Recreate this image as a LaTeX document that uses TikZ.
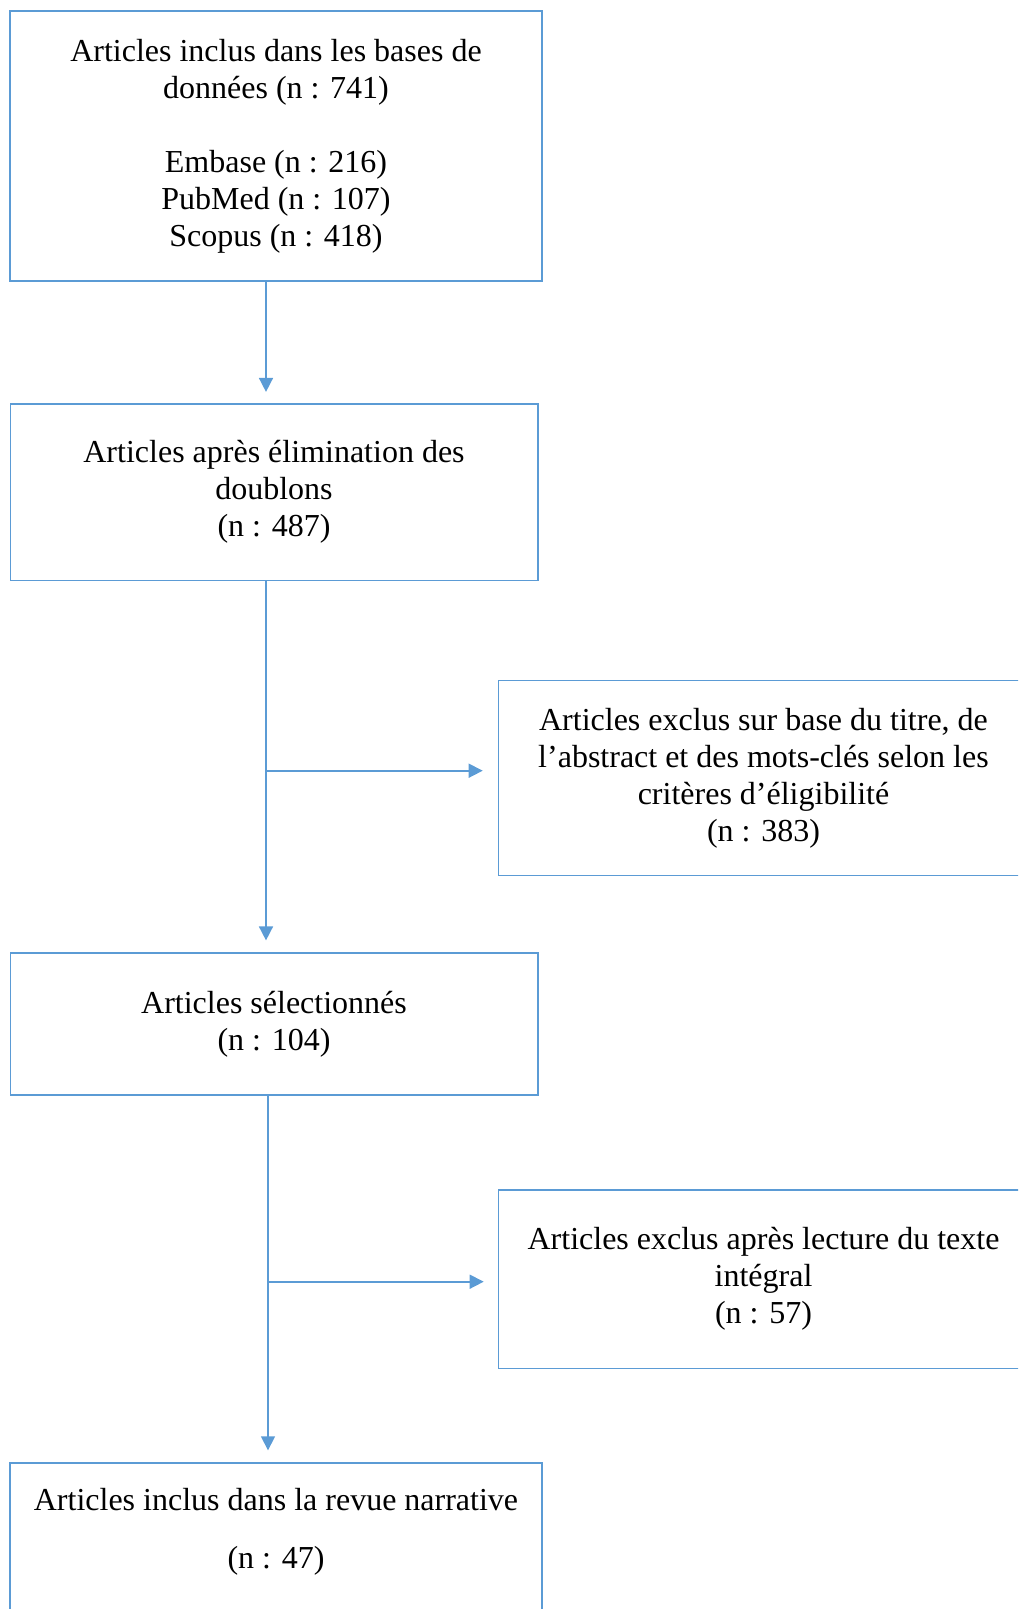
\documentclass[tikz,border=0pt]{standalone}
\usepackage{fontspec}
\setmainfont{Liberation Serif}
\usetikzlibrary{arrows.meta, positioning}
\definecolor{flowblue}{RGB}{91,155,213}

\begin{document}
\begin{tikzpicture}[x=1pt, y=-1pt,
    box/.style={draw=flowblue, line width=1.6pt, align=center, inner sep=0pt,
        font=\fontsize{32}{37}\selectfont},
    arr/.style={draw=flowblue, line width=1.6pt, -{Triangle[length=14pt, width=14pt]}}]
    \def\xA{266} \def\xB{268}
    % Page
    \useasboundingbox (0,0) rectangle (1018,1609);
    \clip (0,0) rectangle (1018,1609);
    % Main column
    \node[box, minimum width=531.5pt, minimum height=270pt] (bases) at (276,146)
        {Articles inclus dans les bases de\\données (n : 741)\\[37pt]Embase (n : 216)\\PubMed (n : 107)\\Scopus (n : 418)};
    \node[box, minimum width=527.4pt, minimum height=176.6pt] (doublons) at (274,492)
        {Articles après élimination des\\doublons\\(n : 487)};
    \node[box, minimum width=527.4pt, minimum height=141.6pt] (selection) at (274,1024)
        {Articles sélectionnés\\(n : 104)};
    \node[box, minimum width=531.5pt, minimum height=180pt, anchor=north] (revue) at (276,1462.3)
        {};
    \node[font=\fontsize{32}{37}\selectfont, align=center, inner sep=0pt, anchor=north] (revueTxt) at (276,1488)
        {Articles inclus dans la revue narrative\\[21pt](n : 47)};
    % Exclusion boxes
    \node[box, minimum width=530pt, minimum height=195pt, anchor=west] (exclusTitre) at (497.7,778)
        {Articles exclus sur base du titre, de\\l’abstract et des mots-clés selon les\\critères d’éligibilité\\(n : 383)};
    \node[box, minimum width=530pt, minimum height=178.6pt, anchor=west] (exclusTexte) at (497.7,1279)
        {Articles exclus après lecture du texte\\intégral\\(n : 57)};
    % Connectors
    \coordinate (kA) at (\xA,770.7);
    \coordinate (kB) at (\xB,1281.7);
    \draw[arr, shorten >=11pt] (bases.south -| kA) -- (doublons.north -| kA);
    \draw[arr, shorten >=12pt] (doublons.south -| kA) -- (selection.north -| kA);
    \draw[arr, shorten >=15pt] (kA) -- (kA -| exclusTitre.west);
    \draw[arr, shorten >=12pt] (selection.south -| kB) -- (revue.north -| kB);
    \draw[arr, shorten >=14pt] (kB) -- (kB -| exclusTexte.west);
\end{tikzpicture}
\end{document}
